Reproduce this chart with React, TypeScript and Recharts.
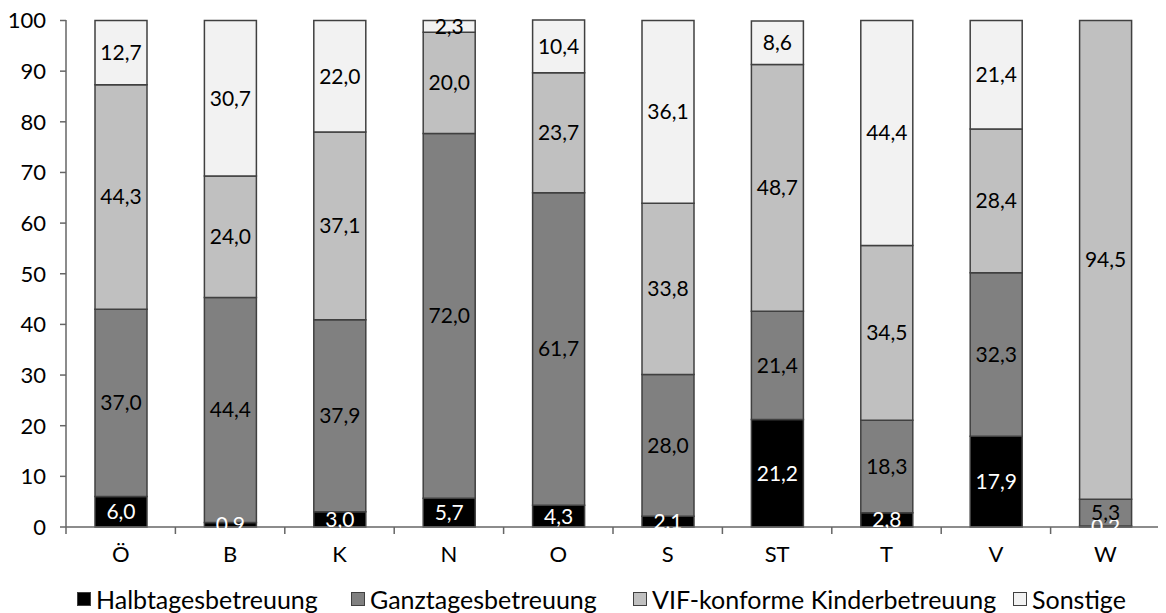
import React from "react";
import { BarChart, Bar, XAxis, YAxis, LabelList } from "recharts";

const categories = ["Ö", "B", "K", "N", "O", "S", "ST", "T", "V", "W"];
const halbtags = [6.0, 0.9, 3.0, 5.7, 4.3, 2.1, 21.2, 2.8, 17.9, 0.2];
const ganztags = [37.0, 44.4, 37.9, 72.0, 61.7, 28.0, 21.4, 18.3, 32.3, 5.3];
const vif = [44.3, 24.0, 37.1, 20.0, 23.7, 33.8, 48.7, 34.5, 28.4, 94.5];
const sonstige = [12.7, 30.7, 22.0, 2.3, 10.4, 36.1, 8.6, 44.4, 21.4, 0.0];
const yTicks = [0, 10, 20, 30, 40, 50, 60, 70, 80, 90, 100];

const seriesNames = [
  "Halbtagesbetreuung",
  "Ganztagesbetreuung",
  "VIF-konforme Kinderbetreuung",
  "Sonstige",
];
const colors = ["#000000", "#808080", "#c0c0c0", "#f2f2f2"];

const data = categories.map((c, i) => ({
  name: c,
  h: halbtags[i],
  g: ganztags[i],
  v: vif[i],
  s: sonstige[i],
}));

const FONT = "Lato, 'DejaVu Sans', sans-serif";
const W = 1158;
const H = 605;
const MARGIN = { top: 12, right: 6, left: 0, bottom: 30 };
const YW = 58;
const BAND = (W - MARGIN.left - MARGIN.right - YW) / categories.length;
const legendSquareX = [69, 343, 625, 1005];

const fmt = (v: any) => Number(v).toFixed(1).replace(".", ",");

const XTick = (props: any) => {
  const { x, y, payload } = props;
  return (
    <g>
      <line x1={x - BAND / 2} x2={x - BAND / 2} y1={y - 8} y2={y - 1} stroke="#666" strokeWidth={1.5} />
      <text x={x} y={y + 27} textAnchor="middle" fontSize={22} fill="#000" fontFamily={FONT}>
        {payload.value}
      </text>
    </g>
  );
};

export default function App() {
  const keys = ["h", "g", "v", "s"];
  return (
    <div style={{ width: W, height: H, position: "relative" }}>
      <BarChart width={W} height={H} data={data} margin={MARGIN} barSize={52}>
        <XAxis
          dataKey="name"
          height={56}
          tick={<XTick />}
          tickLine={false}
          axisLine={{ stroke: "#666", strokeWidth: 1.5 }}
          interval={0}
        />
        <YAxis
          width={YW}
          domain={[0, 100]}
          ticks={yTicks}
          interval={0}
          tickSize={6}
          tickMargin={14}
          tickLine={{ stroke: "#666", strokeWidth: 1.5 }}
          axisLine={{ stroke: "#666", strokeWidth: 1.5 }}
          tick={{ fontSize: 22, fill: "#000", fontFamily: FONT }}
        />
        {keys.map((k, i) => (
          <Bar
            key={k}
            dataKey={k}
            name={seriesNames[i]}
            stackId="a"
            fill={colors[i]}
            stroke="#404040"
            strokeWidth={1.5}
            isAnimationActive={false}
          >
            <LabelList
              dataKey={k}
              position="center"
              formatter={fmt}
              fill={i === 0 ? "#ffffff" : "#000000"}
              fontSize={21}
              fontFamily={FONT}
            />
          </Bar>
        ))}
      </BarChart>
      {seriesNames.map((n, i) => (
        <div
          key={n}
          style={{
            position: "absolute",
            left: legendSquareX[i],
            top: 576,
            display: "flex",
            alignItems: "center",
            fontFamily: FONT,
            fontSize: 25,
            lineHeight: "30px",
            whiteSpace: "nowrap",
            color: "#000",
          }}
        >
          <span
            style={{
              display: "inline-block",
              width: 12,
              height: 12,
              background: colors[i],
              border: "1px solid #404040",
              marginRight: 5,
            }}
          />
          {n}
        </div>
      ))}
    </div>
  );
}
